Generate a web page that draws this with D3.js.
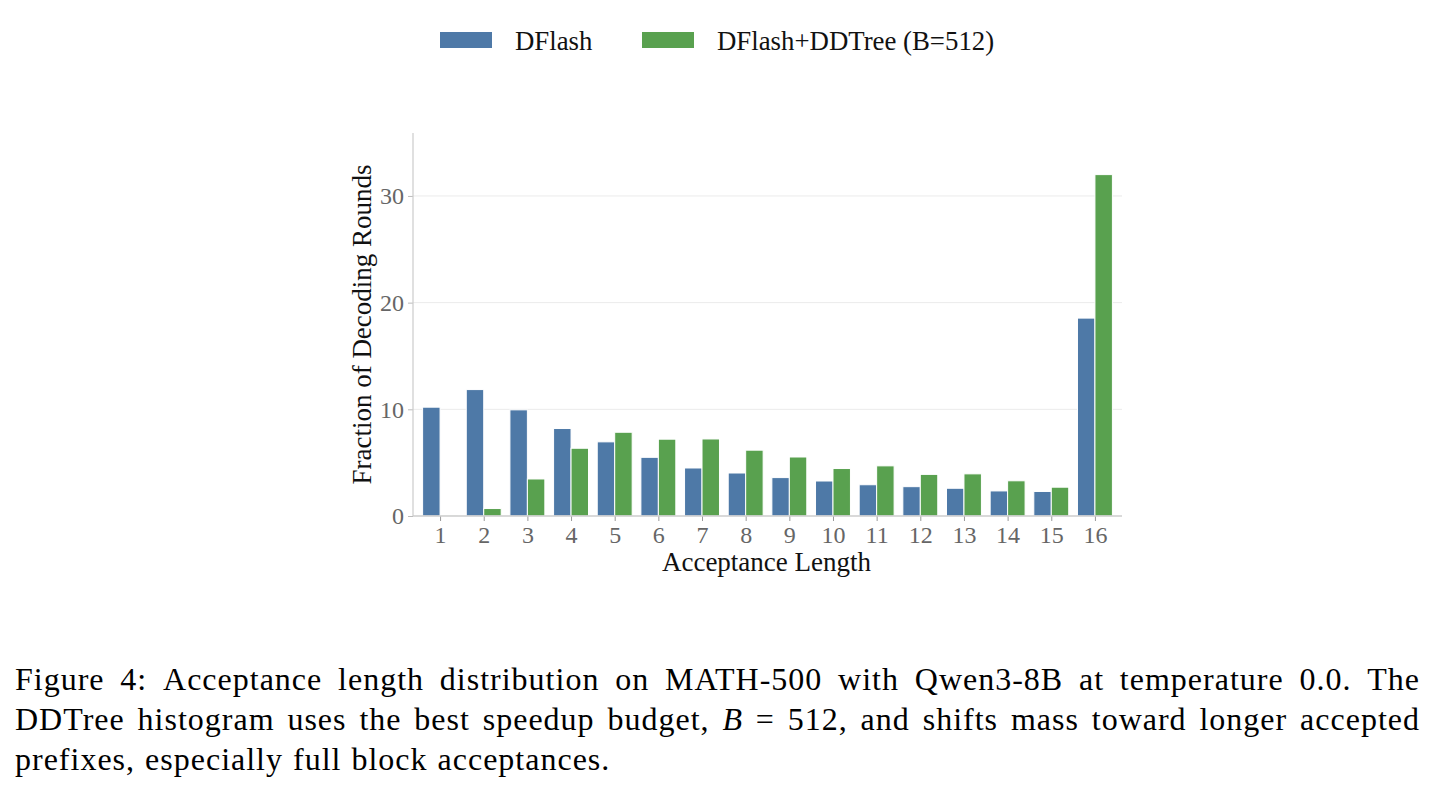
<!DOCTYPE html>
<html>
<head>
<meta charset="utf-8">
<script src="https://cdn.jsdelivr.net/npm/d3@7"></script>
<style>
  html, body { margin: 0; padding: 0; background: #fff; }
  svg text { font-family: "Liberation Serif", "DejaVu Serif", serif; }
</style>
</head>
<body>
<svg id="chart" width="1435" height="793"></svg>
<script>
// acceptance lengths (x categories)
const lengths = [1, 2, 3, 4, 5, 6, 7, 8, 9, 10, 11, 12, 13, 14, 15, 16];
// fraction of decoding rounds (%)
const dflash = [10.2, 11.85, 9.95, 8.2, 6.95, 5.5, 4.5, 4.03, 3.6, 3.28, 2.93, 2.75, 2.6, 2.35, 2.3, 18.55];
const ddtree = [0.03, 0.7, 3.47, 6.35, 7.85, 7.2, 7.22, 6.17, 5.53, 4.45, 4.7, 3.9, 3.95, 3.3, 2.7, 32.0];
const seriesNames = ["DFlash", "DFlash+DDTree (B=512)"];
const seriesColors = ["#4e79a7", "#59a14f"];
const yTicks = [0, 10, 20, 30];

// caption lines, words; italic tokens marked with *
const captionLines = [
    { words: "Figure 4: Acceptance length distribution on MATH-500 with Qwen3-8B at temperature 0.0. The".split(" "), justify: true },
    { words: "DDTree histogram uses the best speedup budget, *B = 512, and shifts mass toward longer accepted".split(" "), justify: true },
    { words: "prefixes, especially full block acceptances.".split(" "), justify: false }
];

const svg = d3.select("#chart");

// plot area
const plotLeft = 413, plotRight = 1122, plotTop = 133, plotBottom = 516;

const x = d3.scaleLinear().domain([0.38, 16.62]).range([plotLeft, plotRight]);
const y = d3.scaleLinear().domain([0, 35.9]).range([plotBottom, plotTop]);
const barW = 0.4;

// gridlines
svg.append("g")
    .selectAll("line")
    .data(yTicks.filter(d => d > 0))
    .enter()
    .append("line")
    .attr("x1", plotLeft).attr("x2", plotRight)
    .attr("y1", d => y(d)).attr("y2", d => y(d))
    .attr("stroke", "#ebebeb")
    .attr("stroke-width", 1);

// bars
const rows = lengths.map((l, i) => ({ l: l, vals: [dflash[i], ddtree[i]] }));
rows.forEach(r => {
    r.vals.forEach((v, s) => {
        const x0 = s === 0 ? r.l - barW : r.l;
        svg.append("rect")
            .attr("x", x(x0))
            .attr("width", x(x0 + barW) - x(x0))
            .attr("y", y(v))
            .attr("height", y(0) - y(v))
            .attr("fill", seriesColors[s])
            .attr("stroke", "#ffffff")
            .attr("stroke-width", 1);
    });
});

// y axis
const yAxis = d3.axisLeft(y).tickValues(yTicks).tickSize(5).tickPadding(4).tickFormat(d3.format("d"));
const yg = svg.append("g").attr("transform", `translate(${plotLeft},0)`).call(yAxis);
yg.select(".domain").remove();
yg.append("line")
    .attr("x1", 0).attr("x2", 0).attr("y1", plotTop).attr("y2", plotBottom)
    .attr("stroke", "#cccccc").attr("stroke-width", 1.2);
yg.selectAll(".tick line").attr("stroke", "#bbbbbb");
yg.selectAll(".tick text")
    .attr("fill", "#666666")
    .style("font-size", "24px")
    .style("font-family", "Liberation Serif, serif");

// x axis
const xAxis = d3.axisBottom(x).tickValues(lengths).tickSize(5).tickPadding(5).tickFormat(d3.format("d"));
const xg = svg.append("g").attr("transform", `translate(0,${plotBottom})`).call(xAxis);
xg.select(".domain").remove();
xg.append("line")
    .attr("x1", plotLeft).attr("x2", plotRight).attr("y1", 0).attr("y2", 0)
    .attr("stroke", "#cccccc").attr("stroke-width", 1.5);
xg.selectAll(".tick line").attr("stroke", "#999999");
xg.selectAll(".tick text")
    .attr("fill", "#666666")
    .style("font-size", "24px")
    .style("font-family", "Liberation Serif, serif");

// axis titles
svg.append("text")
    .attr("x", (plotLeft + plotRight) / 2 - 1)
    .attr("y", 571)
    .attr("text-anchor", "middle")
    .style("font-size", "27px")
    .attr("fill", "#111")
    .text("Acceptance Length");

svg.append("text")
    .attr("transform", `translate(371,${(plotTop + plotBottom) / 2}) rotate(-90)`)
    .attr("text-anchor", "middle")
    .style("font-size", "27px")
    .attr("fill", "#111")
    .text("Fraction of Decoding Rounds");

// legend
const legendX = [440, 642];
seriesNames.forEach((name, i) => {
    svg.append("rect")
        .attr("x", legendX[i]).attr("y", 32)
        .attr("width", 52).attr("height", 16)
        .attr("fill", seriesColors[i]);
    svg.append("text")
        .attr("x", legendX[i] + 75).attr("y", 50)
        .style("font-size", "26.8px")
        .attr("fill", "#111")
        .text(name);
});

// caption, justified like the LaTeX figure caption
const capLeft = 15, capRight = 1420, capSize = 32, capTrack = 1.0;
const baselines = [690, 730, 770];
const measure = svg.append("text").style("font-size", capSize + "px").style("letter-spacing", capTrack + "px");
captionLines.forEach((line, li) => {
    const words = line.words.map(w => {
        const italic = w.startsWith("*");
        const t = italic ? w.slice(1) : w;
        measure.text(t).style("font-style", italic ? "italic" : "normal");
        return { t: t, italic: italic, w: measure.node().getComputedTextLength() };
    });
    const natSpace = 10;
    const total = d3.sum(words, d => d.w);
    const gap = line.justify ? (capRight - capLeft - total) / (words.length - 1) : natSpace;
    let cx = capLeft;
    const t = svg.append("text").attr("y", baselines[li])
        .style("font-size", capSize + "px")
        .style("letter-spacing", capTrack + "px")
        .attr("fill", "#000");
    words.forEach(wd => {
        t.append("tspan")
            .attr("x", cx)
            .style("font-style", wd.italic ? "italic" : "normal")
            .text(wd.t);
        cx += wd.w + gap;
    });
});
measure.remove();
</script>
</body>
</html>
